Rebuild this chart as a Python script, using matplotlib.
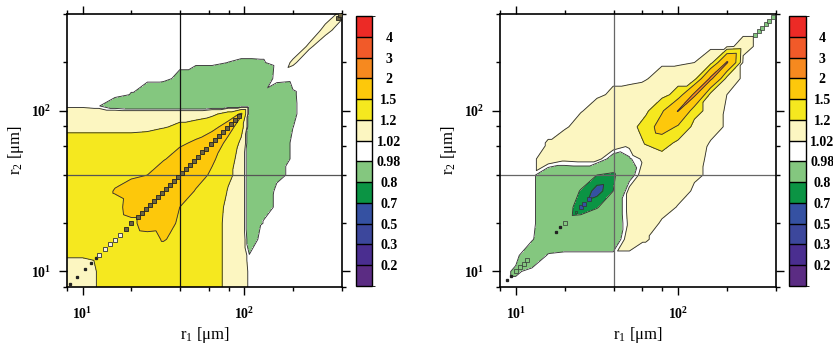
import numpy as np
import matplotlib
matplotlib.use('Agg')
import matplotlib.pyplot as plt
import matplotlib.tri as mtri
from matplotlib.colors import ListedColormap, BoundaryNorm
from matplotlib.cm import ScalarMappable
from matplotlib.ticker import FixedLocator, FuncFormatter, NullFormatter

plt.rcParams['font.family'] = 'Liberation Serif'
plt.rcParams['mathtext.fontset'] = 'custom'
plt.rcParams['mathtext.rm'] = 'Liberation Serif'
plt.rcParams['mathtext.it'] = 'Liberation Serif:italic'
plt.rcParams['mathtext.bf'] = 'Liberation Serif:bold'

# ---------------------------------------------------
# contour levels / colour bar (bottom -> top)
levels = [0.0, 0.2, 0.3, 0.5, 0.7, 0.8, 0.98, 1.02, 1.2, 1.5, 2, 3, 4, 10]
level_labels = ['0.2', '0.3', '0.5', '0.7', '0.8', '0.98', '1.02',
                '1.2', '1.5', '2', '3', '4']
level_colors = ['#5b2c83', '#4a2e90', '#3c479c', '#3551a2', '#0b9444',
                '#84c77f', '#ffffff', '#fcf6c1', '#f5e81f', '#fdc80b',
                '#f6891f', '#f15a29', '#ec2a26']

# log10(r) grid nodes of the two maps
log_r_left = [0.9, 1.0, 1.1, 1.2, 1.3, 1.4, 1.5, 1.6, 1.7, 1.8, 1.9, 1.98,
              2.03, 2.1, 2.2, 2.3, 2.4, 2.5, 2.61]
log_r_right = [0.9, 1.0, 1.1, 1.2, 1.3, 1.4, 1.5, 1.6, 1.7, 1.8, 1.9, 2.0,
               2.1, 2.2, 2.3, 2.4, 2.5, 2.61]

# ratio values, row = r2 node, entries for r1 nodes up to the diagonal
# (maps are symmetric in r1 <-> r2)
ratio_left = [
    [1.10],
    [1.10, 1.10],
    [1.22, 1.22, 1.25],
    [1.35, 1.35, 1.35, 1.40],
    [1.35, 1.35, 1.35, 1.40, 1.45],
    [1.35, 1.35, 1.38, 1.42, 1.60, 1.60],
    [1.35, 1.35, 1.38, 1.52, 1.58, 1.65, 1.70],
    [1.35, 1.35, 1.35, 1.40, 1.47, 1.50, 1.65, 1.75],
    [1.35, 1.35, 1.35, 1.35, 1.38, 1.42, 1.48, 1.62, 1.75],
    [1.35, 1.35, 1.35, 1.35, 1.35, 1.37, 1.40, 1.45, 1.55, 1.72],
    [1.10, 1.10, 1.10, 1.10, 1.10, 1.12, 1.18, 1.25, 1.30, 1.40, 1.65],
    [1.10, 1.10, 1.10, 1.10, 1.10, 1.10, 1.10, 1.10, 1.10, 1.15, 1.30, 1.55],
    [1.00, 1.00, 0.983, 0.924, 0.90, 0.90, 0.90, 0.90, 0.90, 0.90, 0.90, 0.90, 0.90],
    [1.00, 1.00, 1.00, 1.00, 0.977, 0.916, 0.90, 0.90, 0.90, 0.90, 0.90, 0.90, 0.90, 0.96],
    [1.00, 1.00, 1.00, 1.00, 1.00, 1.00, 1.00, 0.958, 0.90, 0.90, 0.90, 0.90, 0.90, 0.90, 1.01],
    [1.00, 1.00, 1.00, 1.00, 1.00, 1.00, 1.00, 1.00, 1.00, 1.00, 0.979, 0.97, 0.97, 0.972, 1.00, 1.025],
    [1.00, 1.00, 1.00, 1.00, 1.00, 1.00, 1.00, 1.00, 1.00, 1.015, 1.015, 1.015, 1.015, 1.015, 1.015, 1.00, 1.025],
    [1.00] * 17 + [1.03],
    [1.00] * 18 + [1.03],
]

ratio_right = [
    [1.00],
    [1.00, 0.97],
    [1.00, 1.00, 0.90],
    [1.00, 1.00, 0.99, 0.88],
    [1.00, 1.00, 1.00, 0.90, 0.85],
    [1.00, 1.00, 1.00, 0.90, 0.86, 0.74],
    [1.00, 1.00, 1.00, 0.90, 0.90, 0.79, 0.65],
    [1.00, 1.00, 1.00, 0.90, 0.90, 0.90, 0.80, 0.78],
    [1.00, 1.00, 1.00, 1.08, 1.04, 1.05, 1.05, 0.93, 0.97],
    [1.00, 1.00, 1.00, 1.025, 1.10, 1.10, 1.10, 1.10, 1.05, 1.22],
    [1.00, 1.00, 1.00, 1.00, 1.00, 1.08, 1.10, 1.10, 1.12, 1.30, 1.70],
    [1.00, 1.00, 1.00, 1.00, 1.00, 1.01, 1.08, 1.10, 1.10, 1.15, 1.45, 2.02],
    [1.00, 1.00, 1.00, 1.00, 1.00, 1.00, 1.00, 1.04, 1.05, 1.10, 1.12, 1.30, 2.10],
    [1.00] * 9 + [1.01, 1.08, 1.10, 1.10, 2.10],
    [1.00] * 12 + [1.02, 1.10, 2.05],
    [1.00] * 15 + [1.05],
    [1.00] * 17,
    [1.00] * 18,
]

# points on the r1 = r2 diagonal (r in um)
left_diag_dots = [8.3, 9.2, 10.3, 11.3, 12.1]
left_diag_open = [12.7, 13.8, 14.8, 15.8, 16.9]
left_diag_dark = [18.5, 20.0, 21.9, 23.2, 24.5, 26.0, 27.5, 29.2, 30.9, 32.7,
                  34.7, 36.7, 38.9, 41.2, 43.7, 46.2, 49.0, 51.9, 55.0, 58.2,
                  61.7, 65.3, 69.2, 73.3, 77.6, 82.2, 87.1, 92.3, 380, 392]
right_diag_dots = [8.8, 9.3, 17.7, 18.8]
right_diag_green = [10.0, 10.6, 11.2, 11.8, 20.0, 298, 313, 328, 345, 363, 381]
right_diag_dkgreen = [23.5]
right_diag_blue = [25.1, 26.3, 28.4]

major_ticks = [10, 100]
minor_ticks = [8, 20, 40, 60, 80, 200, 400]

# ---------------------------------------------------


def full_matrix(rows):
    n = len(rows)
    z = np.zeros((n, n))
    for i, row in enumerate(rows):
        for j, val in enumerate(row):
            z[i, j] = val
            z[j, i] = val
    return z


def grid_triangulation(log_r):
    r = 10 ** np.array(log_r)
    X, Y = np.meshgrid(r, r)
    n = len(r)
    tris = []
    for i in range(n - 1):
        for j in range(n - 1):
            a = i * n + j
            b = i * n + j + 1
            c = (i + 1) * n + j + 1
            d = (i + 1) * n + j
            tris.append([a, b, c])
            tris.append([a, c, d])
    return mtri.Triangulation(X.ravel(), Y.ravel(), tris)


def log_label(v, pos):
    return r'$\mathbf{10^{%d}}$' % round(np.log10(v))


def draw_panel(ax, cax, log_r, rows, vcol, hcol):
    cmap = ListedColormap(level_colors)
    norm = BoundaryNorm(levels, ncolors=len(level_colors))
    tri = grid_triangulation(log_r)
    z = full_matrix(rows).ravel()
    ax.tricontourf(tri, z, levels=levels, cmap=cmap, norm=norm)
    ax.tricontour(tri, z, levels=levels[1:-1], colors='#333333', linewidths=0.65)
    ax.set_xscale('log')
    ax.set_yscale('log')
    ax.set_xlim(8, 400)
    ax.set_ylim(8, 400)
    ax.axvline(40, color=vcol, lw=0.9)
    ax.axhline(40, color=hcol, lw=0.9)
    for axis in (ax.xaxis, ax.yaxis):
        axis.set_major_locator(FixedLocator(major_ticks))
        axis.set_minor_locator(FixedLocator(minor_ticks))
        axis.set_major_formatter(FuncFormatter(log_label))
        axis.set_minor_formatter(NullFormatter())
    ax.tick_params(which='both', direction='out', top=True, right=True,
                   width=1.0, labelsize=10)
    ax.tick_params(which='major', length=6, pad=5)
    ax.tick_params(which='minor', length=3)
    ax.tick_params(axis='x', pad=8)
    for s in ax.spines.values():
        s.set_linewidth(1.2)
    ax.set_xlabel('r$_1$ [μm]', fontsize=12, labelpad=2)
    ax.set_ylabel('r$_2$ [μm]', fontsize=12, labelpad=4)

    sm = ScalarMappable(norm=norm, cmap=cmap)
    cb = plt.colorbar(sm, cax=cax, spacing='uniform', drawedges=True,
                      ticks=levels[1:-1])
    cb.set_ticklabels(level_labels)
    cb.outline.set_linewidth(1.0)
    cb.dividers.set_linewidth(1.0)
    cax.tick_params(length=0, pad=12, labelsize=10)
    plt.setp(cax.get_yticklabels(), ha='center', fontweight='bold')


fig = plt.figure(figsize=(8.33, 3.46), dpi=100)
ax1 = fig.add_axes([0.0804, 0.1705, 0.330, 0.789])
cax1 = fig.add_axes([0.427, 0.1734, 0.0199, 0.780])
ax2 = fig.add_axes([0.6002, 0.1705, 0.3313, 0.789])
cax2 = fig.add_axes([0.9475, 0.1734, 0.0197, 0.780])

draw_panel(ax1, cax1, log_r_left, ratio_left, '#111111', '#555555')
draw_panel(ax2, cax2, log_r_right, ratio_right, '#666666', '#666666')

# diagonal markers, left map
ax1.plot(left_diag_dots, left_diag_dots, 's', ms=1.4, color='#222222', zorder=5)
ax1.plot(left_diag_open, left_diag_open, 's', ms=2.8, mfc='#f4f0e0',
         mec='#333333', mew=0.6, zorder=5)
ax1.plot(left_diag_dark, left_diag_dark, 's', ms=2.8, mfc='#6e6440',
         mec='#222222', mew=0.6, zorder=5)

# diagonal markers, right map
ax2.plot(right_diag_dots, right_diag_dots, 's', ms=1.4, color='#222222', zorder=5)
ax2.plot(right_diag_green, right_diag_green, 's', ms=3.2, mfc='#84c77f',
         mec='#333333', mew=0.5, zorder=5)
ax2.plot(right_diag_dkgreen, right_diag_dkgreen, 's', ms=1.8, mfc='#0b9444',
         mec='#333333', mew=0.5, zorder=5)
ax2.plot(right_diag_blue, right_diag_blue, 's', ms=2.8, mfc='#3551a2',
         mec='#333333', mew=0.5, zorder=5)

fig.savefig('out.png', dpi=100)
